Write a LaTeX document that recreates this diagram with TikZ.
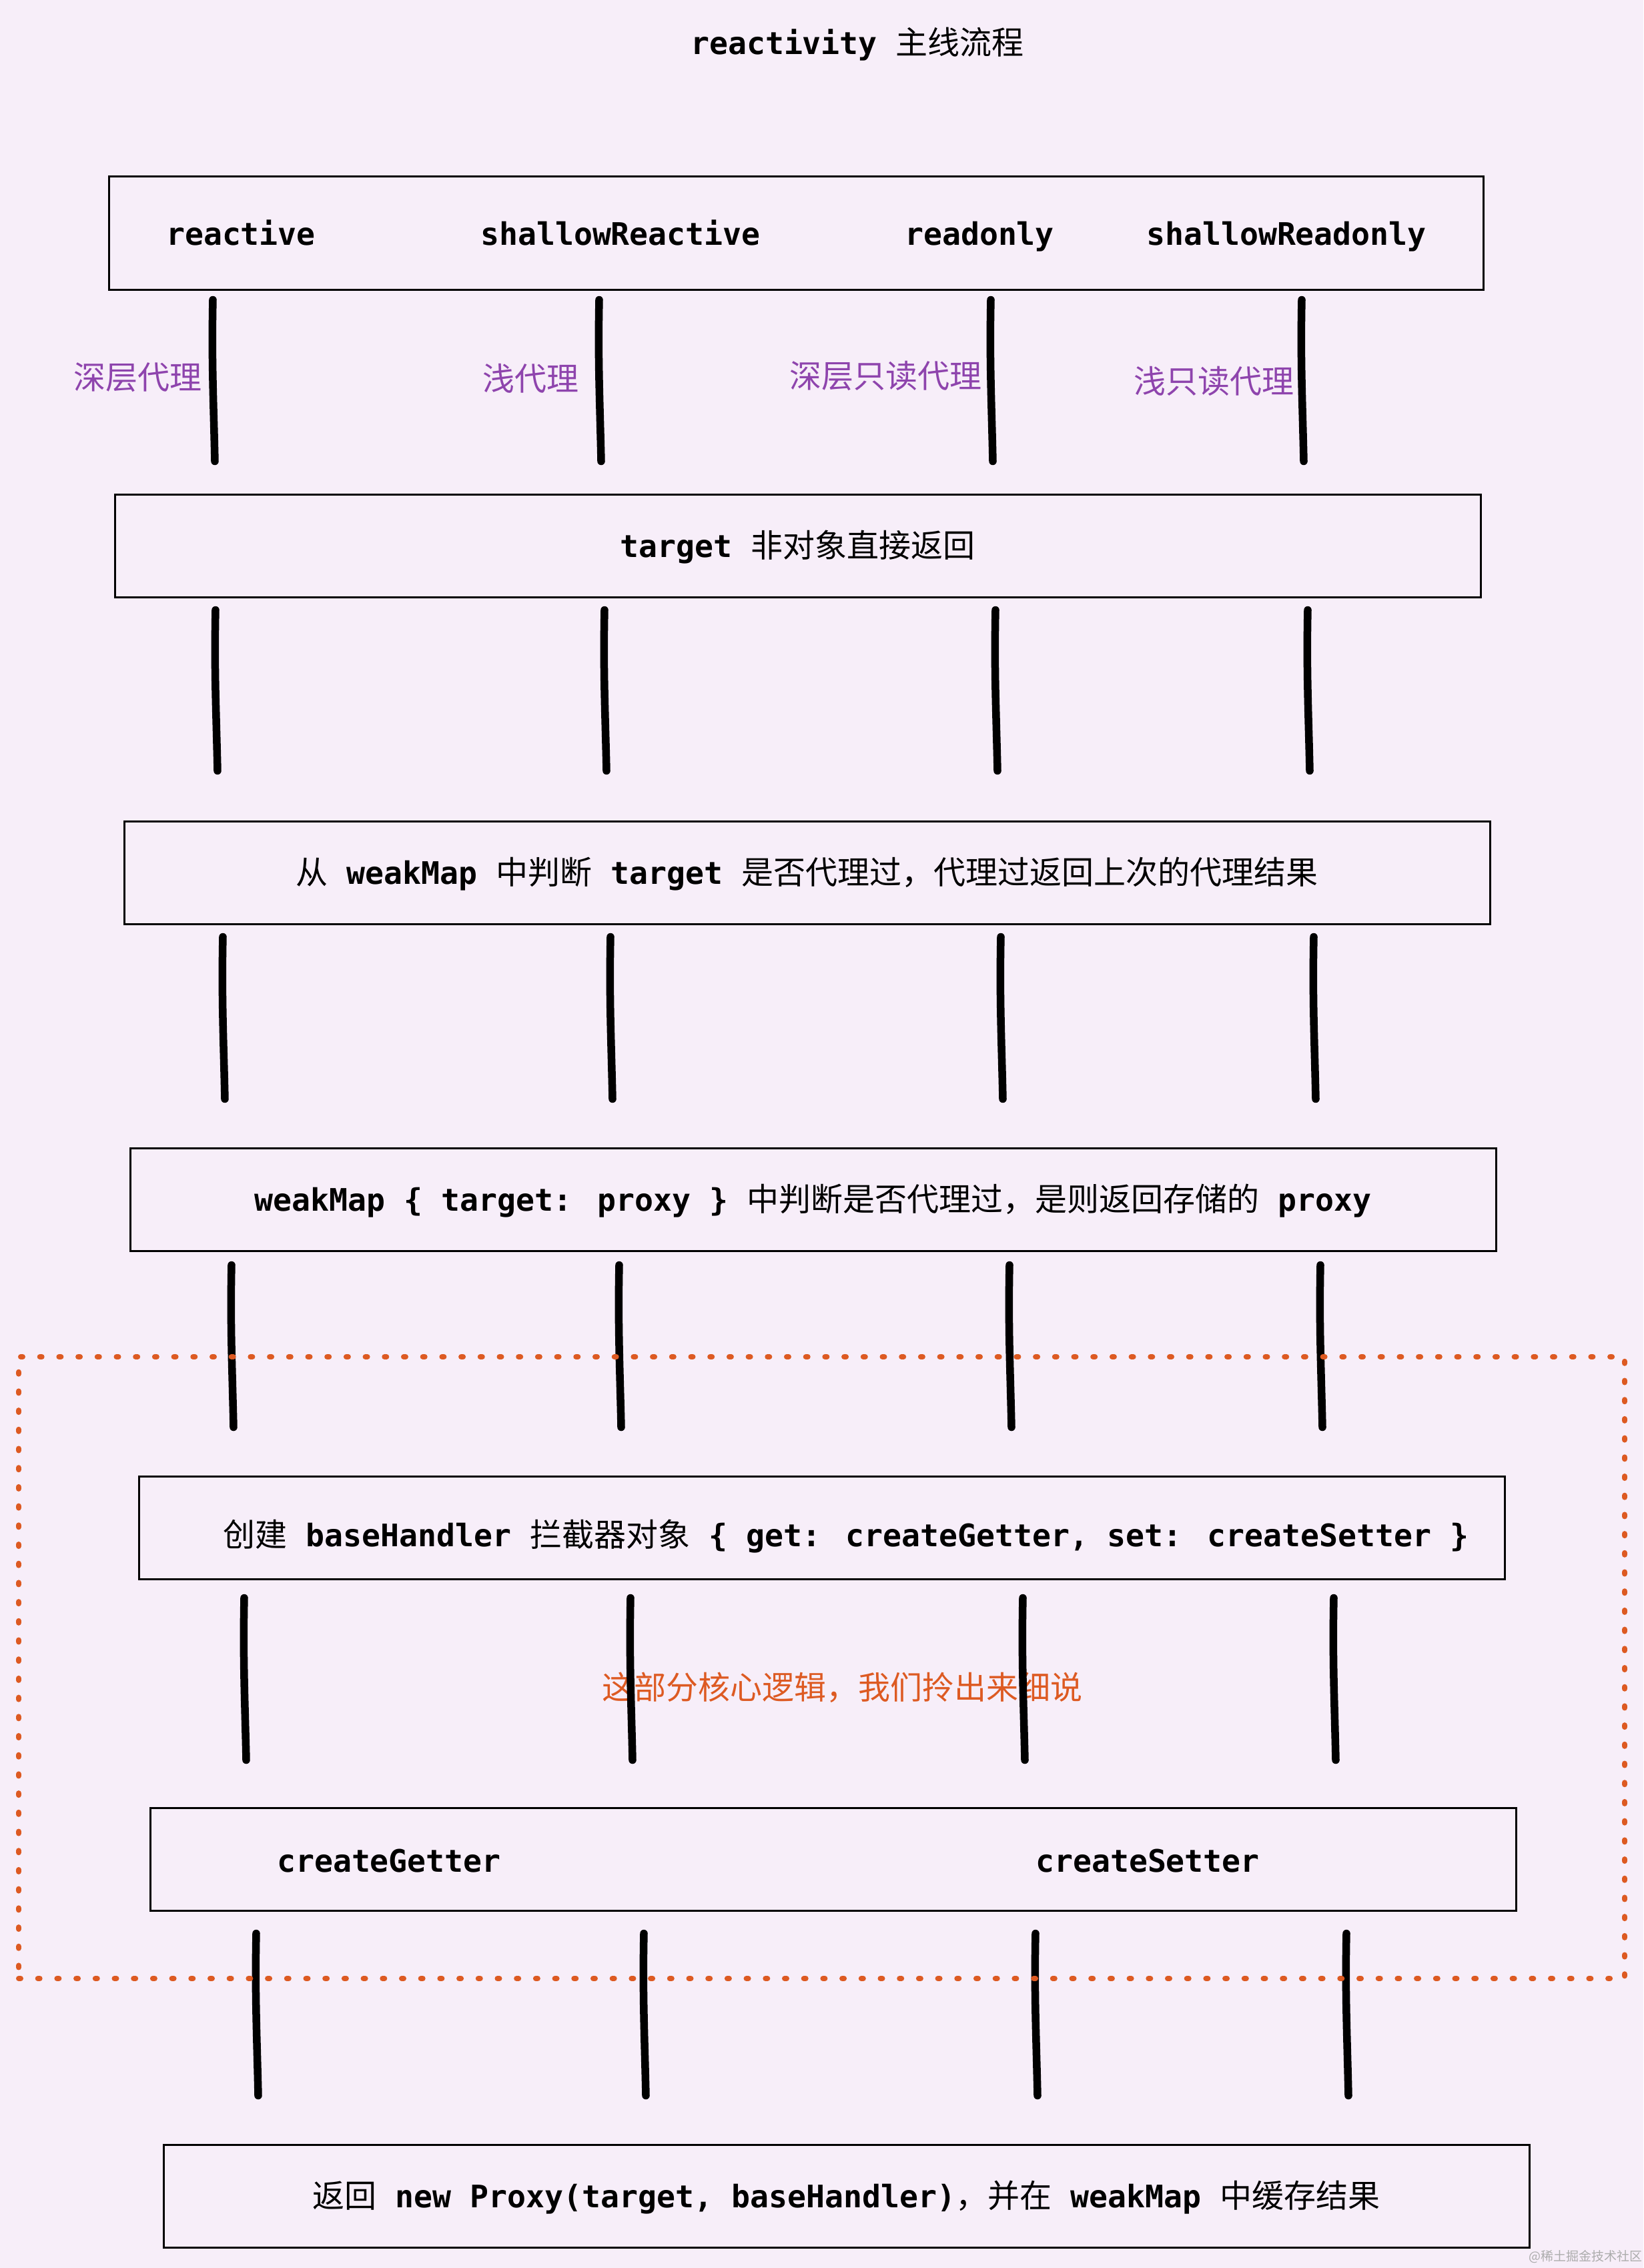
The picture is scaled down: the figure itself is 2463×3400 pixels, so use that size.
\documentclass[tikz,border=0pt]{standalone}
\usepackage{fontspec}
\usetikzlibrary{calc}
\newfontfamily\zhfont{Noto Sans CJK SC}
\newfontfamily\codefont{DejaVu Sans Mono}
\newcommand\zhs[1]{{\zhfont\fontsize{48}{57}\selectfont #1}}
\newcommand\cds[1]{{\codefont\bfseries\fontsize{46.5}{55}\selectfont #1}}
\definecolor{bgc}{HTML}{F7EEF9}
\definecolor{lblpurple}{HTML}{8E44AD}
\definecolor{accent}{HTML}{DD5A22}
% #1 upper node, #2 lower node, #3 top gap, #4 bottom gap, #5 x list
\newcommand\connrow[5]{%
  \foreach \cx in {#5} {%
    \draw[conn] ($(\cx,0 |- #1.south)+(0,#3)$)
      .. controls ($(\cx-2,0 |- #1.south)+(0,#3+90)$) and ($(\cx+1,0 |- #2.north)+(0,-#4-90)$)
      .. ($(\cx+3,0 |- #2.north)+(0,-#4)$);
  }%
}
\begin{document}
\begin{tikzpicture}[x=1pt,y=-1pt,
  box/.style={draw=black, line width=3pt, minimum width=2047pt, minimum height=154pt,
    inner sep=0pt, text height=34pt, text depth=0pt},
  lbl/.style={inner sep=0pt, text height=34pt, text depth=0pt},
  conn/.style={line width=11.5pt, line cap=round, black},
  region/.style={draw=accent, line width=8pt, line cap=round, dash pattern=on 3pt off 25.7pt}]
\fill[bgc] (0,0) rectangle (2463,3400);
\useasboundingbox (0,0) rectangle (2463,3400);

\node[lbl] (title) at (1285,64) {\cds{reactivity\ }\zhs{主线流程}};

% boxes
\node[box, minimum width=2060pt, minimum height=170pt] (b1) at (1193,349) {};
\node[lbl] (t1a) at (361,350) {\cds{reactive}};
\node[lbl] (t1b) at (930,350) {\cds{shallowReactive}};
\node[lbl] (t1c) at (1468,350) {\cds{readonly}};
\node[lbl] (t1d) at (1928,350) {\cds{shallowReadonly}};

\node[box] (b2) at (1195.5,818) {\cds{target\ }\zhs{非对象直接返回}};
\node[box] (b3) at (1209.5,1308) {\zhs{从}\cds{\ weakMap\ }\zhs{中判断}\cds{\ target\ }\zhs{是否代理过，代理过返回上次的代理结果}};
\node[box] (b4) at (1218.5,1798) {\cds{weakMap \{ target: proxy \}\ }\zhs{中判断是否代理过，是则返回存储的}\cds{\ proxy}};
\node[box] (b5) at (1231.5,2290) {};
\node[lbl] (t5) at (1268,2301) {\zhs{创建}\cds{\ baseHandler\ }\zhs{拦截器对象}\cds{\ \{ get: createGetter, set: createSetter \}}};
\node[box] (b6) at (1248.5,2787) {};
\node[lbl] (t6a) at (583,2789) {\cds{createGetter}};
\node[lbl] (t6b) at (1720,2789) {\cds{createSetter}};
\node[box] (b7) at (1268.5,3292) {\zhs{返回}\cds{\ new Proxy(target, baseHandler)}\zhs{，并在}\cds{\ weakMap\ }\zhs{中缓存结果}};

% labels
\node[lbl, text=lblpurple] (l1) at (206,566) {\zhs{深层代理}};
\node[lbl, text=lblpurple] (l2) at (795,568) {\zhs{浅代理}};
\node[lbl, text=lblpurple] (l3) at (1327,564) {\zhs{深层只读代理}};
\node[lbl, text=lblpurple] (l4) at (1819,572) {\zhs{浅只读代理}};
\node[lbl, text=accent] (note) at (1262,2530) {\zhs{这部分核心逻辑，我们拎出来细说}};

% connectors
\connrow{b1}{b2}{14}{48}{319,898,1485,1951}
\connrow{b2}{b3}{18}{74}{323,906,1492,1960}
\connrow{b3}{b4}{18}{72}{334,915,1500,1969}
\connrow{b4}{b5}{20}{72}{347,928,1513,1979}
\connrow{b5}{b6}{27}{70}{366,945,1533,1999}
\connrow{b6}{b7}{33}{72}{384,965,1552,2018}

% dotted region
\node[region, minimum width=2407pt, minimum height=932pt, inner sep=0pt] (zone) at (1231.5,2500) {};

% watermark
\node[inner sep=0pt, text=gray!65] (wm) at (2376,3383) {\zhfont\fontsize{19}{22}\selectfont @稀土掘金技术社区};
\end{tikzpicture}
\end{document}
